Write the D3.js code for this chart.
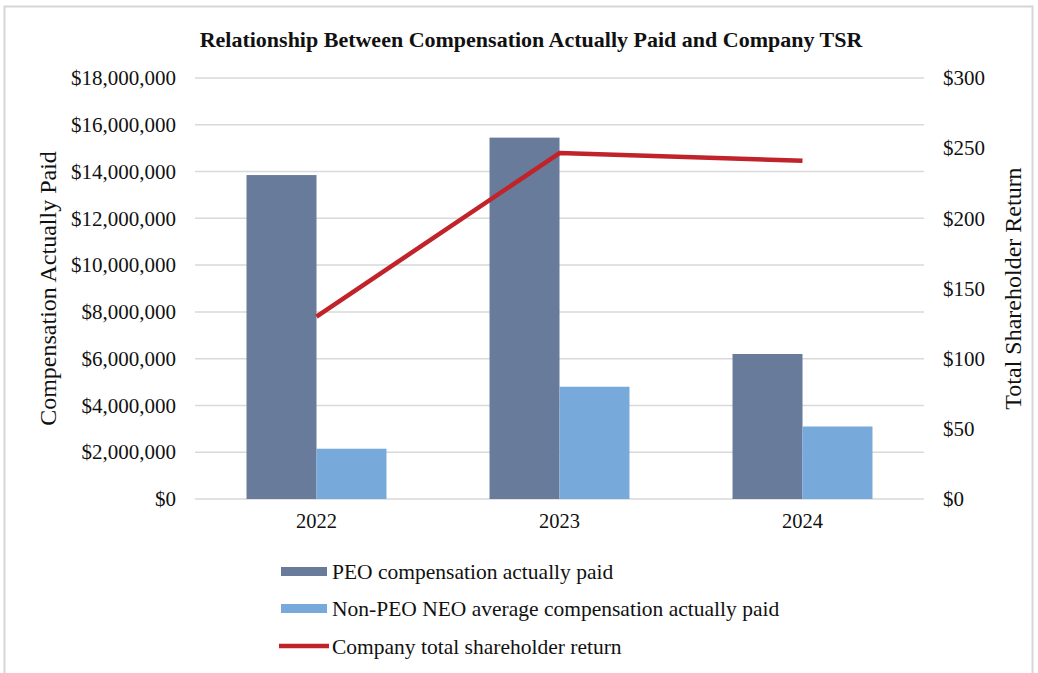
<!DOCTYPE html>
<html>
<head>
<meta charset="utf-8">
<script src="https://cdn.jsdelivr.net/npm/d3@7"></script>
<style>
  body { margin: 0; background: #fff; }
  text { font-family: "Liberation Serif", "Times New Roman", serif; fill: #111; }
</style>
</head>
<body>
<div id="container"></div>
<script>
let w = 1038;
let h = 673;

// data
let years = ["2022", "2023", "2024"];
let peoPaid = [13850000, 15450000, 6200000];
let neoPaid = [2150000, 4800000, 3100000];
let tsr = [130, 246.5, 241];
let leftTicks = [0, 2000000, 4000000, 6000000, 8000000, 10000000, 12000000, 14000000, 16000000, 18000000];
let rightTicks = [0, 50, 100, 150, 200, 250, 300];
let seriesNames = ["PEO compensation actually paid", "Non-PEO NEO average compensation actually paid", "Company total shareholder return"];

let peoColor = "#687b9a";
let neoColor = "#77a9da";
let lineColor = "#c1232b";

let viz = d3.select("#container").append("svg")
    .attr("width", w)
    .attr("height", h)
    .style("display", "block")
;

// outer frame
viz.append("rect")
  .attr("x", 4.5).attr("y", 6.5)
  .attr("width", 1028).attr("height", 680)
  .attr("fill", "none")
  .attr("stroke", "#d6d6d6")
  .attr("stroke-width", 2)
;

let plotLeft = 195, plotRight = 924, plotTop = 78, plotBottom = 499;

let xScale = d3.scaleBand().domain(years).range([plotLeft, plotRight]).paddingInner(0.424).paddingOuter(0.212);
let yLeft = d3.scaleLinear().domain([0, 18000000]).range([plotBottom, plotTop]);
let yRight = d3.scaleLinear().domain([0, 300]).range([plotBottom, plotTop]);

viz.append("text")
  .text("Relationship Between Compensation Actually Paid and Company TSR")
  .attr("x", 531)
  .attr("y", 47)
  .attr("text-anchor", "middle")
  .style("font-weight", "bold")
  .style("font-size", "22px")
;

// gridlines
viz.append("g").selectAll("line").data(leftTicks).enter()
  .append("line")
    .attr("x1", plotLeft).attr("x2", plotRight)
    .attr("y1", d => yLeft(d)).attr("y2", d => yLeft(d))
    .attr("stroke", "#d9d9d9")
    .attr("stroke-width", 1.5)
;

// left axis
let leftAxis = d3.axisLeft(yLeft).tickValues(leftTicks).tickSize(0).tickPadding(19)
  .tickFormat(d => "$" + d3.format(",")(d));
let leftGroup = viz.append("g").attr("transform", "translate(" + plotLeft + ",0)").call(leftAxis);
leftGroup.select(".domain").remove();
leftGroup.selectAll("text").style("font-size", "21px").style("font-family", "Liberation Serif, serif").attr("fill", "#111");

// right axis
let rightAxis = d3.axisRight(yRight).tickValues(rightTicks).tickSize(0).tickPadding(19)
  .tickFormat(d => "$" + d);
let rightGroup = viz.append("g").attr("transform", "translate(" + plotRight + ",0)").call(rightAxis);
rightGroup.select(".domain").remove();
rightGroup.selectAll("text").style("font-size", "21px").style("font-family", "Liberation Serif, serif").attr("fill", "#111");

// bottom axis
let bottomAxis = d3.axisBottom(xScale).tickSize(0).tickPadding(14);
let bottomGroup = viz.append("g").attr("transform", "translate(0," + plotBottom + ")").call(bottomAxis);
bottomGroup.select(".domain").remove();
bottomGroup.selectAll("text").style("font-size", "20.5px").style("font-family", "Liberation Serif, serif").attr("fill", "#111");

// axis titles
viz.append("text")
  .text("Compensation Actually Paid")
  .attr("text-anchor", "middle")
  .attr("transform", "translate(56," + (plotTop + plotBottom) / 2 + ") rotate(-90)")
  .style("font-size", "24px")
;
viz.append("text")
  .text("Total Shareholder Return")
  .attr("text-anchor", "middle")
  .attr("transform", "translate(1021," + (plotTop + plotBottom) / 2 + ") rotate(-90)")
  .style("font-size", "24px")
;

// bars
let half = xScale.bandwidth() / 2;
let barGroup = viz.append("g");
barGroup.selectAll(".peo").data(years).enter()
  .append("rect")
    .attr("class", "peo")
    .attr("x", d => xScale(d))
    .attr("width", half)
    .attr("y", (d, i) => yLeft(peoPaid[i]))
    .attr("height", (d, i) => plotBottom - yLeft(peoPaid[i]))
    .attr("fill", peoColor)
;
barGroup.selectAll(".neo").data(years).enter()
  .append("rect")
    .attr("class", "neo")
    .attr("x", d => xScale(d) + half)
    .attr("width", half)
    .attr("y", (d, i) => yLeft(neoPaid[i]))
    .attr("height", (d, i) => plotBottom - yLeft(neoPaid[i]))
    .attr("fill", neoColor)
;

// tsr line
let line = d3.line()
  .x((d, i) => xScale(years[i]) + half)
  .y(d => yRight(d));
viz.append("path")
  .datum(tsr)
  .attr("d", line)
  .attr("fill", "none")
  .attr("stroke", lineColor)
  .attr("stroke-width", 4.5)
  .attr("stroke-linejoin", "round")
;

// legend
let legendY = [571, 608, 646];
let legend = viz.append("g");
legend.selectAll("g").data(seriesNames).enter()
  .append("g")
    .attr("transform", (d, i) => "translate(0," + legendY[i] + ")")
    .each(function(d, i) {
      let g = d3.select(this);
      if (i < 2) {
        g.append("rect")
          .attr("x", 281).attr("y", -4)
          .attr("width", 46).attr("height", 9)
          .attr("fill", i == 0 ? peoColor : neoColor);
      } else {
        g.append("line")
          .attr("x1", 279).attr("x2", 329)
          .attr("y1", 0).attr("y2", 0)
          .attr("stroke", lineColor)
          .attr("stroke-width", 4.5);
      }
      g.append("text")
        .text(d)
        .attr("x", 332)
        .attr("y", 7.5)
        .style("font-size", "21.5px");
    })
;
</script>
</body>
</html>
